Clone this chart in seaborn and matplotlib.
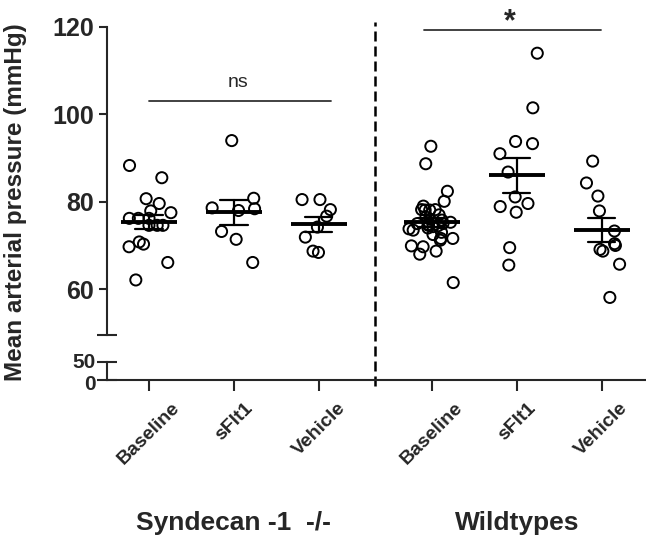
import numpy as np
import pandas as pd
import matplotlib
matplotlib.use("Agg")
import matplotlib.pyplot as plt
import matplotlib.transforms as mtransforms
import seaborn as sns

# mean arterial pressure (mmHg), one value per animal
groups = ["Syndecan -1  -/-", "Wildtypes"]
conditions = ["Baseline", "sFlt1", "Vehicle"]

sdc_baseline = [88.3, 85.5, 80.7, 79.6, 77.5, 77.9, 76.2, 76.2, 76.2,
                74.6, 74.6, 74.6, 70.3, 69.7, 70.8, 66.1, 62.1]
sdc_sflt1 = [94.0, 80.8, 78.6, 78.0, 78.4, 73.2, 71.4, 66.1]
sdc_vehicle = [80.5, 80.5, 78.2, 76.7, 74.2, 71.9, 68.4, 68.7]

wt_baseline = [92.7, 88.7, 82.4, 80.1, 79.0, 78.2, 78.2, 78.1, 78.1, 77.0,
               76.5, 76.0, 75.8, 75.5, 75.3, 75.0, 75.0, 74.8, 74.6, 74.5,
               74.3, 74.0, 73.8, 73.5, 73.0, 72.5, 71.6, 71.6, 71.2, 69.9,
               69.7, 68.7, 68.0, 61.5]
wt_sflt1 = [114.0, 101.5, 93.8, 93.3, 91.0, 86.8, 81.1, 79.6, 77.6, 78.9,
            69.5, 65.5]
wt_vehicle = [89.3, 84.3, 81.3, 77.9, 73.3, 70.0, 68.7, 69.1, 70.4, 65.7, 58.1]

series = [sdc_baseline, sdc_sflt1, sdc_vehicle, wt_baseline, wt_sflt1, wt_vehicle]
tick_labels = conditions * 2

# layout: x position of each column (gap between the two genotypes)
positions = [0, 1, 2, 3.33, 4.33, 5.33]

df = pd.DataFrame({
    "pos": np.concatenate([[p] * len(s) for p, s in zip(positions, series)]),
    "value": np.concatenate(series),
})

sns.set_style("ticks")
plt.rcParams["font.family"] = ["Liberation Sans", "DejaVu Sans"]
plt.rcParams["font.weight"] = "bold"

W, H = 646, 546
fig = plt.figure(figsize=(W / 100, H / 100), dpi=100)
ax = fig.add_axes([107 / W, 1 - 335 / H, 1 - 107 / W, 308 / H])
ax0 = fig.add_axes([107 / W, 1 - 380 / H, 1 - 107 / W, 18 / H], sharex=ax)

np.random.seed(7)
sns.stripplot(data=df, x="pos", y="value", native_scale=True, orient="x",
              jitter=0.27, size=8, color="white", edgecolor="black",
              linewidth=1.4, ax=ax, zorder=2)
for c in ax.collections:
    c.set_facecolor("none")

sns.pointplot(data=df, x="pos", y="value", native_scale=True, orient="x",
              errorbar="se", capsize=0.32, color="black", linestyle="none",
              marker="_", markersize=40, markeredgewidth=2.8,
              err_kws={"linewidth": 1.6}, ax=ax, zorder=3)

ax.set_xlabel("")
ax.set_ylabel("")
ax.set_ylim(49.5, 120)
ax.set_yticks([60, 80, 100, 120])
ax.set_yticks([49.5], minor=True)
ax.tick_params(axis="y", which="major", direction="out", length=6, width=1.5,
               labelsize=18)
ax.tick_params(axis="y", which="minor", direction="inout", length=14, width=1.5)
ax.tick_params(axis="x", bottom=False, labelbottom=False)
for s in ["top", "right", "bottom"]:
    ax.spines[s].set_visible(False)
ax.spines["left"].set_linewidth(1.5)
ax.patch.set_alpha(0)

ax0.set_ylim(0, 50)
ax0.set_yticks([0, 50])
ax0.tick_params(axis="y", direction="inout", length=14, width=1.5,
                labelsize=15, pad=1)
# nudge the two stacked labels apart a little
shifts = [-2, 2]
for lab, dy in zip(ax0.get_yticklabels(), shifts):
    lab.set_transform(lab.get_transform() +
                      mtransforms.ScaledTranslation(0, dy / 100, fig.dpi_scale_trans))
ax0.set_xlim(-0.494, 5.85)
ax0.set_xticks(positions)
ax0.set_xticklabels(tick_labels, rotation=45, fontsize=14, fontweight="bold")
ax0.tick_params(axis="x", direction="out", length=8, width=1.5, pad=6)
for s in ["top", "right"]:
    ax0.spines[s].set_visible(False)
ax0.spines["left"].set_linewidth(1.5)
ax0.spines["bottom"].set_linewidth(1.5)
ax0.patch.set_alpha(0)

# significance annotations
ax.plot([0, 2.14], [103.1, 103.1], color="#333333", lw=1.3, clip_on=False)
ax.text(1.05, 107.2, "ns", ha="center", va="center", fontsize=14,
        fontweight="normal")
ax.plot([3.235, 5.32], [119.2, 119.2], color="#333333", lw=1.3, clip_on=False)
ax.text(4.25, 121.2, "*", ha="center", va="center", fontsize=22,
        fontweight="bold", clip_on=False)

# separator between genotypes
ax.axvline(2.665, ymin=-0.165, ymax=1.015, clip_on=False, color="black",
           lw=1.8, ls=(0, (4, 2)))

fig.text(16 / W, 1 - 202 / H, "Mean arterial pressure (mmHg)", rotation=90,
         ha="center", va="center", fontsize=17.5, fontweight="bold")

trans = mtransforms.blended_transform_factory(ax0.transData, fig.transFigure)
ax0.text(1, 1 - 523 / H, groups[0], transform=trans, ha="center", va="center",
         fontsize=19, fontweight="bold")
ax0.text(4.33, 1 - 523 / H, groups[1], transform=trans, ha="center",
         va="center", fontsize=19, fontweight="bold")

fig.savefig("out.png", dpi=100)
